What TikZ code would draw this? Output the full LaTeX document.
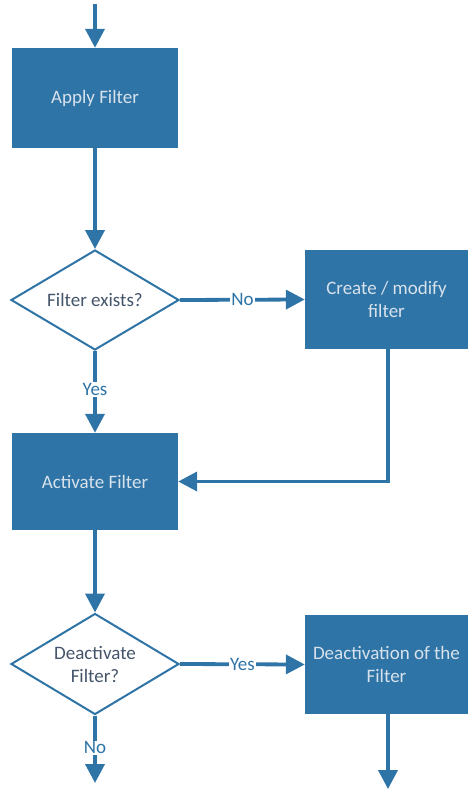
\documentclass[tikz,border=0pt]{standalone}
\usepackage{fontspec}
\setmainfont{Carlito}
\usetikzlibrary{shapes.geometric,arrows.meta}
\definecolor{flowblue}{HTML}{2E74A6}
\definecolor{boxtext}{HTML}{D8E2EC}
\definecolor{decisiontext}{HTML}{44546A}
\tikzset{
  process/.style={rectangle, fill=flowblue, draw=none, text=boxtext,
    align=center, font=\fontsize{19}{23}\selectfont, inner sep=0pt},
  decision/.style={diamond, draw=flowblue, line width=2pt, fill=white,
    inner sep=0pt, minimum width=168pt, minimum height=100pt},
  decisiontxt/.style={text=decisiontext, align=center, inner sep=0pt,
    font=\fontsize{19}{23}\selectfont},
  flow/.style={draw=flowblue, line width=3.8pt,
    -{Triangle[length=19pt,width=19pt]}},
  branch/.style={fill=white, text=flowblue, inner sep=1pt,
    font=\fontsize{19}{23}\selectfont}
}
\begin{document}
\begin{tikzpicture}[x=1pt,y=-1pt]
  \useasboundingbox (0,0) rectangle (468,789);

  % steps and decisions (decision text sits on the diamond's centre)
  \node[process, minimum width=166pt, minimum height=100pt] (apply) at (95,98) {Apply Filter};
  \node[decision, label={[decisiontxt]center:Filter exists?}] (exists) at (95,300) {};
  \node[process, minimum width=163pt, minimum height=99pt] (create) at (386.5,299.5) {Create / modify\\filter};
  \node[process, minimum width=166pt, minimum height=97pt] (activate) at (95,481.5) {Activate Filter};
  \node[decision, minimum height=101pt, label={[decisiontxt]center:Deactivate\\Filter?}] (deactq) at (95,664) {};
  \node[process, minimum width=163pt, minimum height=99pt] (deact) at (386.5,664.5) {Deactivation of the\\Filter};

  % loose ends of the flow
  \coordinate (entry) at (95,4);
  \coordinate (exitno) at (95,783);
  \coordinate (exitdeact) at (388,789);

  % connectors
  \draw[flow] (entry) -- (apply.north);
  \draw[flow] (apply.south) -- (exists.north);
  \draw[flow] (exists.east) -- node[branch] {No} (create.west);
  \draw[flow] (exists.south) -- node[branch, pos=0.47] {Yes} (activate.north);
  \draw[flow] (create.south -| exitdeact) -- (exitdeact |- activate.east) -- (activate.east);
  \draw[flow] (activate.south) -- (deactq.north);
  \draw[flow] (deactq.east) -- node[branch] {Yes} (deact.west);
  \draw[flow] (deactq.south) -- node[branch, pos=0.48] {No} (exitno);
  \draw[flow] (deact.south -| exitdeact) -- (exitdeact);
\end{tikzpicture}
\end{document}
